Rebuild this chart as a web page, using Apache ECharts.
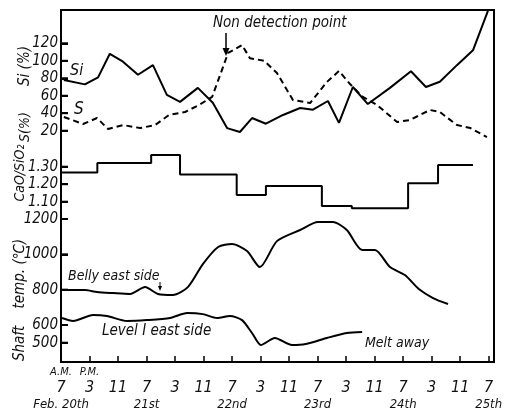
<!DOCTYPE html>
<html><head><meta charset="utf-8">
<script src="https://cdn.jsdelivr.net/npm/echarts@6/dist/echarts.min.js"></script>
<style>html,body{margin:0;padding:0;background:#fff}#c{width:514px;height:419px}</style>
</head><body><div id="c"></div>
<script>
// hours after 7 A.M. Feb. 20th
const siData = [[0.8,78],[6.7,73],[10.4,81],[13.7,108],[17.4,99],[21.6,84],[25.8,95],[29.7,61],[33.4,53],[38.4,69],[42.6,52],[46.6,23],[50.2,18.5],[53.6,34.5],[57.5,28],[62.3,38],[67.1,46],[70.7,44],[74.9,54],[78.0,29],[81.9,70],[86.1,50.5],[92.3,69],[98.2,88],[102.4,70],[106.3,76],[111.1,95],[115.6,112],[119.8,157]];
const sData = [[0.8,35.7],[6.2,27.7],[10.1,34.5],[13.2,22],[17.4,26.5],[22.2,23],[26.4,26.5],[30.3,38],[34.8,41.4],[38.7,49.4],[42.4,58.6],[46.9,109],[50.8,118],[53.0,103],[57.0,100],[60.6,86],[65.1,55],[69.9,51.7],[74.6,75.7],[78.0,88.3],[81.1,73.4],[84.7,58.6],[88.7,49.4],[94.3,30],[97.9,32.2],[103.5,43.7],[106.3,41.4],[111.1,26.5],[114.8,23.1],[119.5,12.8]];
const basicityHours = [0.3,10.2,25.3,33.4,49.3,57.5,73.2,81.6,97.4,105.8,115.6];
const basicityValues = [1.266,1.321,1.367,1.255,1.138,1.190,1.075,1.062,1.205,1.310,1.310];
const bellyHours = [0.3,6.7,10.1,14.6,19.4,23.6,27.2,31.4,35.6,39.8,44.1,48.0,52.2,55.8,60.6,67.1,72.1,76.3,80.2,84.5,88.1,92.3,96.5,100.4,104.4,108.6];
const bellyTemps = [798,798,787,781,776,815,776,770,815,945,1042,1059,1019,928,1075,1138,1183,1183,1138,1025,1025,928,883,804,753,719];
const levelHours = [0.3,3.4,9.0,12.9,18.5,24.1,30.6,35.4,39.8,43.8,47.4,50.8,53.6,56.1,60.0,64.8,68.7,74.6,80.2,84.5];
const levelTemps = [640,623,657,651,623,628,640,668,662,640,651,628,555,487,527,487,493,527,555,561];
const siTicks = [20,120,20];          // min, max, step
const basicityTicks = [1.10,1.30,0.10];
const tempTicksHigh = [600,1200,200];
const tempTicksLow = [500,600,100];
const hourStep = 8;
const xLabelHours = [0,8,16,24,32,40,48,56,64,72,80,88,96,104,112,120];
const dayHours = [0,24,48,72,96,120];
const dayNames = ['Feb. 20th','21st','22nd','23rd','24th','25th'];
const ampmHours = [0,8];
const ampmNames = ['A.M.','P.M.'];

const zip = (a,b) => a.map((v,i)=>[v,b[i]]);
const FONT = '"Liberation Sans Narrow","DejaVu Sans Condensed","Liberation Sans",sans-serif';
const lab = {fontStyle:'italic', fontFamily:FONT, color:'#111'};
const XMIN = 0, XMAX = 121.5;
const L = 61, R = 20, TICKW = 7, W = 514;

const grids = [
  {left:L,right:R,top:10,bottom:57,show:true,borderColor:'#000',borderWidth:2},
  {left:L,right:W-L-TICKW,top:43.3,bottom:419-130.7},
  {left:L,right:W-L-TICKW,top:166.7,bottom:419-201.7},
  {left:L,right:W-L-TICKW,top:219,bottom:419-325},
  {left:L,right:W-L-TICKW,top:325,bottom:419-342.7}
];
function hiddenY(min,max,gi){
  return {type:'value',gridIndex:gi,min:min,max:max,axisLine:{show:false,onZero:false},splitLine:{show:false},axisTick:{show:false},axisLabel:{show:false}};
}
function tickY(t,gi,digits,hideMax){
  return {type:'value',gridIndex:gi,position:'left',min:t[0],max:t[1],interval:t[2],
    axisLine:{show:false,onZero:false},axisTick:{show:false},
    splitLine:{show:true,showMinLine:true,showMaxLine:true,lineStyle:{color:'#000',width:2}},
    axisLabel:Object.assign({margin:3,fontSize:15,showMaxLabel:!hideMax,showMinLabel:true,formatter:v=>v.toFixed(digits)},lab)};
}
function hiddenX(gi){
  return {type:'value',gridIndex:gi,min:XMIN,max:XMAX,axisLine:{show:false,onZero:false},axisTick:{show:false},axisLabel:{show:false},splitLine:{show:false}};
}
function labelX(vals,names,margin,size){
  return {type:'value',gridIndex:0,min:XMIN,max:XMAX,position:'bottom',
    axisLine:{show:false,onZero:false},splitLine:{show:false},axisTick:{show:false},
    axisLabel:Object.assign({customValues:vals,margin:margin,fontSize:size,hideOverlap:false,
      formatter:v=>{const i=vals.indexOf(v);return i>=0?names[i]:'';}},lab)};
}
const hourNames = xLabelHours.map(h=>{const hr=(7+h)%24;return String(hr>12?hr-12:hr);});
const steps = t => { const out=[]; for(let v=t[0]; v<=t[1]+1e-9; v+=t[2]) out.push(+v.toFixed(4)); return out; };

const chart = echarts.init(document.getElementById('c'));
const line = (data,yi,dash,smooth)=>({type:'line',data:data,xAxisIndex:0,yAxisIndex:yi,symbol:'none',smooth:smooth||0,
  lineStyle:{color:'#000',width:2,type:dash?[6,4]:'solid'},animation:false,silent:true});

const annotations = [
  {type:'text',left:70,top:63,style:{text:'Si',font:'italic 16px '+FONT,fill:'#111'}},
  {type:'text',left:74,top:101,style:{text:'S',font:'italic 17px '+FONT,fill:'#111'}},
  {type:'text',left:213,top:16,style:{text:'Non detection point',font:'italic 15px '+FONT,fill:'#111'}},
  {type:'line',shape:{x1:226,y1:33,x2:226,y2:52},style:{stroke:'#000',lineWidth:1.5}},
  {type:'polygon',shape:{points:[[222.5,48],[229.5,48],[226,56]]},style:{fill:'#000'}},
  {type:'text',left:68,top:269,style:{text:'Belly east side',font:'italic 14px '+FONT,fill:'#111'}},
  {type:'line',shape:{x1:160,y1:282,x2:160,y2:288},style:{stroke:'#000',lineWidth:1}},
  {type:'polygon',shape:{points:[[158,286],[162,286],[160,291]]},style:{fill:'#000'}},
  {type:'text',left:102,top:324,style:{text:'Level I east side',font:'italic 15px '+FONT,fill:'#111'}},
  {type:'text',left:365,top:336,style:{text:'Melt away',font:'italic 14px '+FONT,fill:'#111'}},
  {type:'text',x:25,y:66,rotation:Math.PI/2,style:{text:'Si (%)',font:'italic 15px '+FONT,fill:'#111',align:'center',verticalAlign:'middle'}},
  {type:'text',x:25,y:127,rotation:Math.PI/2,style:{text:'S(%)',font:'italic 14px '+FONT,fill:'#111',align:'center',verticalAlign:'middle'}},
  {type:'text',x:20,y:173,rotation:Math.PI/2,style:{text:'CaO/SiO₂',font:'italic 14px '+FONT,fill:'#111',align:'center',verticalAlign:'middle'}},
  {type:'text',x:20,y:300,rotation:Math.PI/2,style:{text:'Shaft    temp. (℃)',font:'italic 15px '+FONT,fill:'#111',align:'center',verticalAlign:'middle'}}
];

chart.setOption({
  backgroundColor:'#fff',
  animation:false,
  grid:grids,
  xAxis:[
    {type:'value',gridIndex:0,min:XMIN,max:XMAX,interval:hourStep,position:'bottom',
      axisLine:{show:false,onZero:false},splitLine:{show:false},
      axisTick:{show:true,inside:true,length:6,lineStyle:{color:'#000',width:1.5}},
      axisLabel:{show:false}},
    labelX(xLabelHours,hourNames,18,16),
    labelX(ampmHours,ampmNames,5,11),
    labelX(dayHours,dayNames,36,13),
    hiddenX(1),hiddenX(2),hiddenX(3),hiddenX(4)
  ],
  yAxis:[
    hiddenY(-244.6,158.1,0),
    hiddenY(0.184,2.195,0),
    hiddenY(391,2383,0),
    tickY(siTicks,1,0),
    tickY(basicityTicks,2,2),
    tickY(tempTicksHigh,3,0),
    tickY(tempTicksLow,4,0,true)
  ],
  series:[
    line(siData,0,false),
    line(sData,0,true),
    Object.assign(line(zip(basicityHours,basicityValues),1,false),{step:'end'}),
    line(zip(bellyHours,bellyTemps),2,false,0.25),
    line(zip(levelHours,levelTemps),2,false,0.25)
  ]
});

// inward y ticks, positioned through the library's own axis scales
function yPix(ai, gi, v){
  let y;
  try { y = chart.convertToPixel({yAxisIndex:ai}, v); } catch(e) { y = undefined; }
  if (Array.isArray(y)) y = y[1];
  if (typeof y !== 'number' || !isFinite(y)) {
    try { const p = chart.convertToPixel({gridIndex:gi}, [XMIN, v]); if (p) y = p[1]; } catch(e) {}
  }
  if (typeof y !== 'number' || !isFinite(y)) {
    try {
      const axis = chart.getModel().getComponent('yAxis', ai).axis;
      y = axis.toGlobalCoord(axis.dataToCoord(v));
    } catch(e) {}
  }
  return y;
}
const tickMarks = [];
[[3,1,siTicks],[4,2,basicityTicks],[5,3,tempTicksHigh],[6,4,tempTicksLow]].forEach(([ai,gi,t])=>{
  steps(t).forEach(v=>{
    const y = yPix(ai, gi, v);
    if (typeof y === 'number' && isFinite(y)) {
      tickMarks.push({type:'line',z:100,shape:{x1:L,y1:y,x2:L+TICKW,y2:y},style:{stroke:'#000',lineWidth:2}});
    }
  });
});
chart.setOption({graphic: annotations.concat(tickMarks)});
</script></body></html>
